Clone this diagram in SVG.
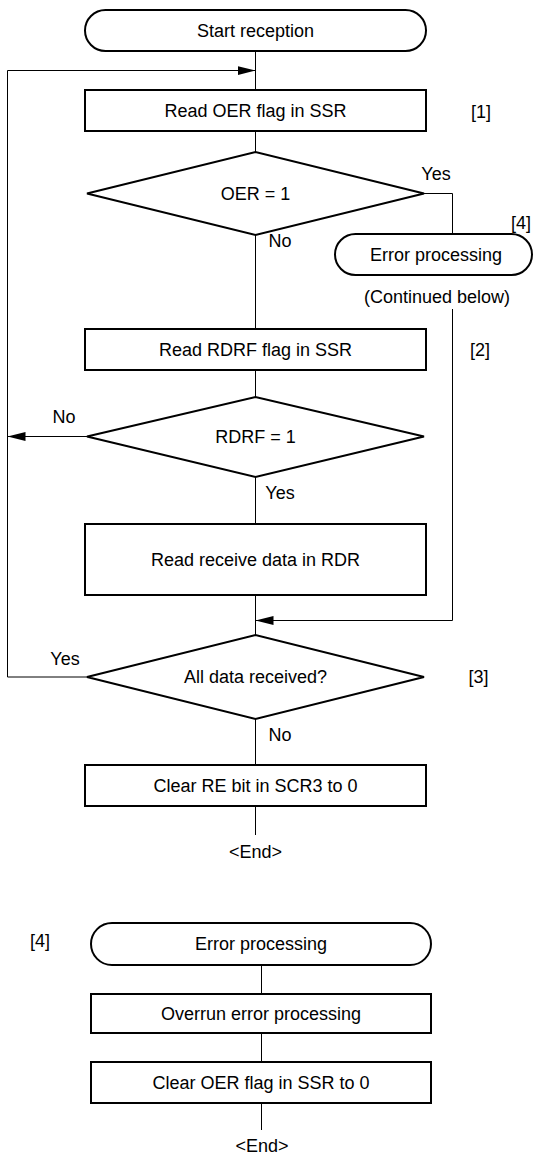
<svg xmlns="http://www.w3.org/2000/svg" width="534" height="1154" viewBox="0 0 534 1154">
<style>
.shape{fill:#fff;stroke:#000;stroke-width:2}
.ln{fill:none;stroke:#000;stroke-width:1}
text{font-family:"Liberation Sans",Arial,sans-serif;font-size:18px;fill:#000;text-anchor:middle}
</style>
<defs>
<marker id="ah" markerUnits="userSpaceOnUse" markerWidth="20" markerHeight="10" refX="18" refY="4.5" orient="auto">
<path d="M0,0 L18,4.5 L0,9 Z" fill="#000"/>
</marker>
</defs>
<rect width="534" height="1154" fill="#fff"/>
<g id="connectors">
<line class="ln" x1="255.5" y1="51" x2="255.5" y2="90"/>
<line class="ln" x1="255.5" y1="131" x2="255.5" y2="152"/>
<line class="ln" x1="255.5" y1="235" x2="255.5" y2="329"/>
<line class="ln" x1="255.5" y1="370" x2="255.5" y2="397"/>
<line class="ln" x1="255.5" y1="477" x2="255.5" y2="524"/>
<line class="ln" x1="255.5" y1="595" x2="255.5" y2="635"/>
<line class="ln" x1="255.5" y1="719" x2="255.5" y2="765"/>
<line class="ln" x1="255.5" y1="806" x2="255.5" y2="835"/>
<polyline class="ln" points="87,677 7.5,677 7.5,70.5 255.5,70.5" marker-end="url(#ah)"/>
<line class="ln" x1="87" y1="436.5" x2="7.5" y2="436.5" marker-end="url(#ah)"/>
<polyline class="ln" points="424,193.5 452.5,193.5 452.5,234"/>
<polyline class="ln" points="452.5,309 452.5,620.5 255.5,620.5" marker-end="url(#ah)"/>
<line class="ln" x1="261.5" y1="965" x2="261.5" y2="994"/>
<line class="ln" x1="261.5" y1="1033" x2="261.5" y2="1062"/>
<line class="ln" x1="261.5" y1="1103" x2="261.5" y2="1130"/>
</g>
<g id="start">
<rect class="shape" x="85" y="10" width="341" height="41" rx="20.5"/>
<text x="255.5" y="37">Start reception</text>
</g>
<g id="readOER">
<rect class="shape" x="85" y="90" width="341" height="41"/>
<text x="255.5" y="117">Read OER flag in SSR</text>
<text x="481" y="118">[1]</text>
</g>
<g id="oerDecision">
<polygon class="shape" points="87,193.5 255.5,152 424,193.5 255.5,235"/>
<text x="255.5" y="200">OER = 1</text>
<text x="436" y="180">Yes</text>
<text x="280" y="247">No</text>
</g>
<g id="errorRef">
<rect class="shape" x="335" y="234" width="197" height="41" rx="20.5"/>
<text x="436" y="261">Error processing</text>
<text x="521" y="229">[4]</text>
<text x="437" y="303">(Continued below)</text>
</g>
<g id="readRDRF">
<rect class="shape" x="85" y="329" width="341" height="41"/>
<text x="255.5" y="356">Read RDRF flag in SSR</text>
<text x="480" y="356">[2]</text>
</g>
<g id="rdrfDecision">
<polygon class="shape" points="87,436.5 255.5,397 424,436.5 255.5,477"/>
<text x="255.5" y="443">RDRF = 1</text>
<text x="64" y="423">No</text>
<text x="280" y="499">Yes</text>
</g>
<g id="readRDR">
<rect class="shape" x="85" y="524" width="341" height="71"/>
<text x="255.5" y="566">Read receive data in RDR</text>
</g>
<g id="allDecision">
<polygon class="shape" points="87,677 255.5,635 424,677 255.5,719"/>
<text x="255.5" y="683">All data received?</text>
<text x="65" y="665">Yes</text>
<text x="478.5" y="683">[3]</text>
<text x="280" y="741">No</text>
</g>
<g id="clearRE">
<rect class="shape" x="85" y="765" width="341" height="41"/>
<text x="255.5" y="792">Clear RE bit in SCR3 to 0</text>
</g>
<g id="end1">
<text x="255.5" y="858">&lt;End&gt;</text>
</g>
<g id="errorStart">
<rect class="shape" x="91" y="923" width="340" height="42" rx="21"/>
<text x="261" y="950">Error processing</text>
<text x="40" y="947">[4]</text>
</g>
<g id="overrun">
<rect class="shape" x="91" y="994" width="340" height="39"/>
<text x="261" y="1020">Overrun error processing</text>
</g>
<g id="clearOER">
<rect class="shape" x="91" y="1062" width="340" height="41"/>
<text x="261" y="1089">Clear OER flag in SSR to 0</text>
</g>
<g id="end2">
<text x="262" y="1152">&lt;End&gt;</text>
</g>
</svg>
